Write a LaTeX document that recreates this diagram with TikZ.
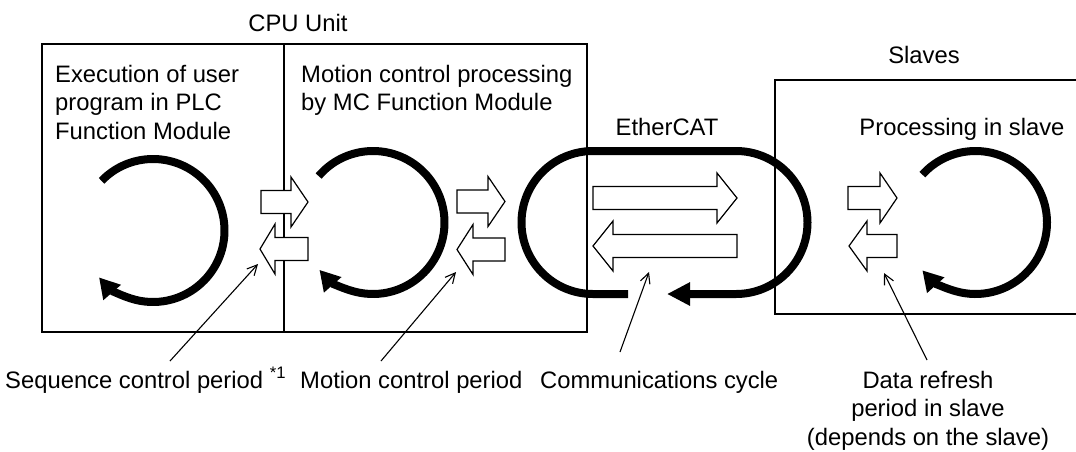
\documentclass[tikz,border=0pt]{standalone}
\usepackage{fontspec}
\setmainfont{Liberation Sans}
\usetikzlibrary{arrows.meta, calc}

\tikzset{
  box/.style={line width=1.4pt},
  cyclearc/.style={line width=8pt, -{Triangle[length=20pt,width=22pt]}},
  blockarrow/.style={draw, fill=white, line width=1.2pt, line join=miter},
  callout/.style={line width=1.1pt, -{Straight Barb[length=10pt,width=10pt]}},
  lbl/.style={inner sep=0pt}
}

% hollow block arrows: body start, head base, tip, centre line
\newcommand{\blockright}[4]{%
  \draw[blockarrow] (#1,#4-11.5) -- (#2,#4-11.5) -- (#2,#4-25) -- (#3,#4)
    -- (#2,#4+25) -- (#2,#4+11.5) -- (#1,#4+11.5) -- cycle;}
% tip, head base, body end, centre line
\newcommand{\blockleft}[4]{%
  \draw[blockarrow] (#1,#4) -- (#2,#4-25) -- (#2,#4-11.5) -- (#3,#4-11.5)
    -- (#3,#4+11.5) -- (#2,#4+11.5) -- (#2,#4+25) -- cycle;}

\begin{document}
\begin{tikzpicture}[x=1pt, y=-1pt, font=\fontsize{23.8}{28.5}\selectfont]
    \useasboundingbox (0,0) rectangle (1076,451);
    \clip (0,0) rectangle (1076,451);

    % CPU Unit and Slaves frames
    \draw[box] (42,44) rectangle (587,332);
    \draw[box] (284,44) -- (284,332);
    \draw[box] (1085,80) -- (775,80) -- (775,314) -- (1085,314);

    % cycles
    \draw[cyclearc] ($(153,230.5)+(-136:71.5)$) arc (-136:139:71.5);
    \draw[cyclearc] ($(373,222.5)+(-139.5:71.5)$) arc (-139.5:138.5:71.5);
    \draw[cyclearc] ($(975.5,222.5)+(-138:71.5)$) arc (-138:138:71.5);
    \draw[cyclearc, -{Triangle[length=23pt,width=22pt]}] (628,294) -- (593,294) arc (90:270:71.5)
        -- (736,151) arc (-90:90:71.5) -- (667,294);

    % data exchange
    \blockright{261}{291}{308}{202}
    \blockleft{260}{275}{308}{249}
    \blockright{457}{488}{505}{201.5}
    \blockleft{457}{473}{505}{249.5}
    \blockright{593}{717}{737}{198}
    \blockleft{593}{613}{737}{246}
    \blockright{848}{880}{897}{198}
    \blockleft{849}{867}{897}{246}

    % texts
    \node[lbl, anchor=base] (cpu) at (298,31) {CPU Unit};
    \node[lbl, anchor=north west, align=left] (plctext) at (55,65) {Execution of user\\program in PLC\\Function Module};
    \node[lbl, anchor=north west, align=left] (mctext) at (301,65) {Motion control processing\\by MC Function Module};
    \node[lbl, anchor=base] (slaves) at (924,63) {Slaves};
    \node[lbl, anchor=base] (ecat) at (667,135) {EtherCAT};
    \node[lbl, anchor=base] (slavetext) at (962,135) {Processing in slave};

    % periods
    \node[lbl, anchor=base west] (seqlbl) at (5,388) {Sequence control period \textsuperscript{*1}};
    \node[lbl, anchor=base west] (motlbl) at (300,388) {Motion control period};
    \node[lbl, anchor=base west] (comlbl) at (540,388) {Communications cycle};
    \node[lbl, anchor=north, align=center] (datlbl) at (928,371) {Data refresh\\period in slave\\(depends on the slave)};

    \coordinate (seqtip) at (258,264);
    \coordinate (mottip) at (456,272);
    \coordinate (comtip) at (649,272);
    \coordinate (dattip) at (884,273);
    \draw[callout] ($(seqlbl.base west)+(165,-27)$) -- (seqtip);
    \draw[callout] ($(motlbl.base west)+(81,-27)$) -- (mottip);
    \draw[callout] ($(comlbl.base west)+(80,-36)$) -- (comtip);
    \draw[callout] ($(datlbl.north)+(-1,-11)$) -- (dattip);
\end{tikzpicture}
\end{document}
